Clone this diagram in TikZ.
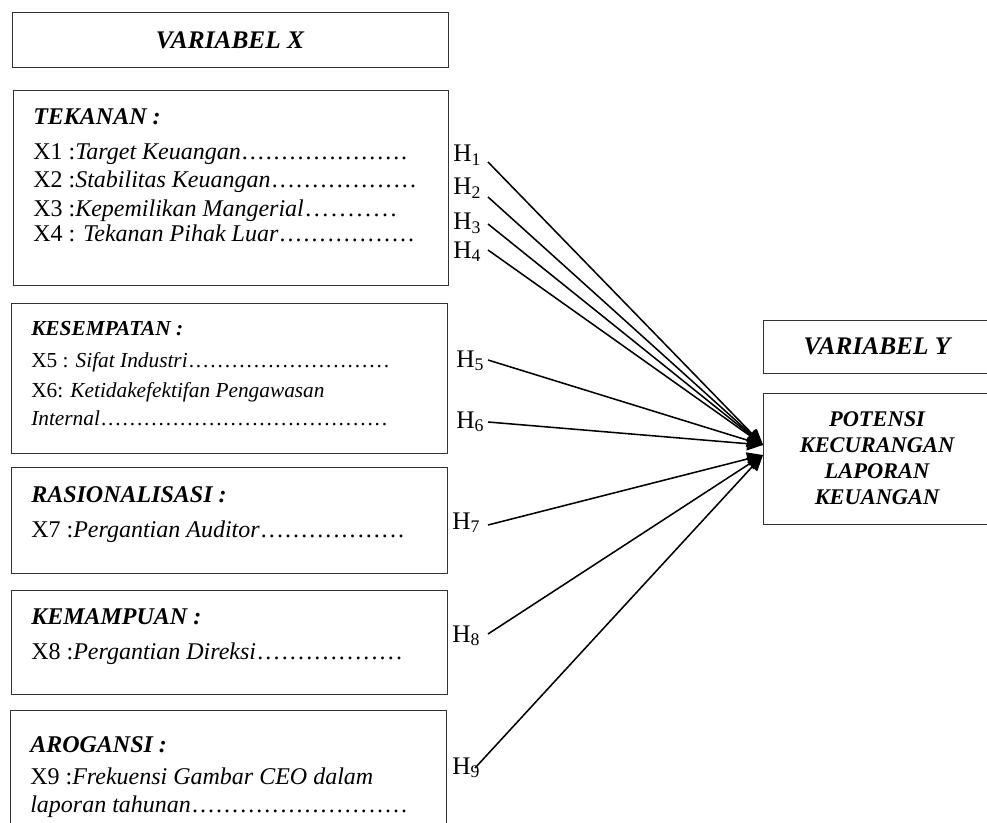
\documentclass[tikz,border=0pt]{standalone}
\usepackage{fontspec}
\setmainfont{Liberation Serif}
\usetikzlibrary{arrows.meta}
\newcommand\dl[2]{\makebox[#1][l]{#2\xleaders\hbox to 0.33em{\hss.\hss}\hfill}}
\newcommand\fA{\fontsize{19}{22}\selectfont\bfseries\itshape}
\newcommand\fB{\fontsize{18}{21}\selectfont}
\newcommand\fC{\fontsize{16}{19}\selectfont}
\newcommand\fP{\fontsize{16.8}{19.5}\selectfont\bfseries\itshape}
\tikzset{
 box/.style={draw=black!80, line width=0.75pt, inner sep=0pt},
 txt/.style={anchor=base west, inner sep=0pt},
 hl/.style={anchor=base west, inner sep=0pt, font=\fontsize{19}{22}\selectfont},
 arr/.style={line width=1.15pt, -{Triangle[length=12pt,width=10pt]}},
}
\begin{document}
\begin{tikzpicture}[x=0.75pt,y=-0.75pt]
\useasboundingbox (0,0) rectangle (987,823);
\clip (0,0) rectangle (987,823);
% boxes
\node[box, minimum width=327pt, minimum height=41.25pt, font=\fA] (vx) at (230,40.5) {VARIABEL X};
\node[box, minimum width=326.25pt, minimum height=145.5pt] (tekbox) at (230.5,188) {};
\node[box, minimum width=327pt, minimum height=112.5pt] (kesbox) at (229,378) {};
\node[box, minimum width=327pt, minimum height=79.5pt] (rasbox) at (229,520) {};
\node[box, minimum width=327pt, minimum height=78pt] (kembox) at (229,642) {};
\node[box, minimum width=327pt, minimum height=97.5pt] (arobox) at (228,775) {};
\node[box, minimum width=171pt, minimum height=39.75pt, font=\fA] (vy) at (877,346.5) {VARIABEL Y};
\node[box, minimum width=171pt, minimum height=98.25pt, align=center, font=\fP] (pot) at (877,458.5) {POTENSI\\KECURANGAN\\LAPORAN\\KEUANGAN};
\begin{scope}[yshift=-1.5pt]
% TEKANAN
\node[txt, font=\fB] (tek) at (33,123) {\textbf{\textit{TEKANAN :}}};
\node[txt, font=\fB] (x1) at (33,158) {\dl{281.25pt}{X1 :\textit{Target Keuangan}}};
\node[txt, font=\fB] (x2) at (33,186) {\dl{288pt}{X2 :\textit{Stabilitas Keuangan}}};
\node[txt, font=\fB] (x3) at (33,215) {\dl{273.75pt}{X3 :\textit{Kepemilikan Mangerial}}};
\node[txt, font=\fB] (x4) at (33,240) {\dl{286.5pt}{X4 : \textit{Tekanan Pihak Luar}}};
% KESEMPATAN
\node[txt, font=\fC] (kes) at (31,333) {\textbf{\textit{KESEMPATAN :}}};
\node[txt, font=\fC] (x5) at (31,365) {\dl{269.25pt}{X5 : \textit{Sifat Industri}}};
\node[txt, font=\fC] (x6) at (31,395) {X6: \textit{Ketidakefektifan Pengawasan}};
\node[txt, font=\fC] (int) at (31,423) {\dl{267.75pt}{\textit{Internal}}};
% RASIONALISASI
\node[txt, font=\fB] (ras) at (31,500) {\textbf{\textit{RASIONALISASI :}}};
\node[txt, font=\fB] (x7) at (31,535) {\dl{280.5pt}{X7 :\textit{Pergantian Auditor}}};
% KEMAMPUAN
\node[txt, font=\fB] (kem) at (31,622) {\textbf{\textit{KEMAMPUAN :}}};
\node[txt, font=\fB] (x8) at (31,657) {\dl{279pt}{X8 :\textit{Pergantian Direksi}}};
% AROGANSI
\node[txt, font=\fB] (aro) at (30,750) {\textbf{\textit{AROGANSI :}}};
\node[txt, font=\fB] (x9) at (30,782) {X9 :\textit{Frekuensi Gambar CEO dalam}};
\node[txt, font=\fB] (lap) at (30,810) {\dl{283.5pt}{\textit{laporan tahunan}}};
\end{scope}
% H labels
\node[hl] (h1) at (453,162) {H\textsubscript{1}};
\node[hl] (h2) at (453,195) {H\textsubscript{2}};
\node[hl] (h3) at (453,230) {H\textsubscript{3}};
\node[hl] (h4) at (453,258) {H\textsubscript{4}};
\node[hl] (h5) at (456,367) {H\textsubscript{5}};
\node[hl] (h6) at (456,428) {H\textsubscript{6}};
\node[hl] (h7) at (452,529) {H\textsubscript{7}};
\node[hl] (h8) at (452,642) {H\textsubscript{8}};
\node[hl] (h9) at (452,774) {H\textsubscript{9}};
% connector ends
\coordinate (s1) at (488,162);
\coordinate (s2) at (488,197);
\coordinate (s3) at (488,224);
\coordinate (s4) at (488,250);
\coordinate (s5) at (488,360);
\coordinate (s6) at (488,422);
\coordinate (s7) at (488,525);
\coordinate (s8) at (488,634);
\coordinate (s9) at (475,768);
\coordinate (ta) at (763,445);
\coordinate (tb) at (763,455);
\foreach \s in {s1,s2,s3,s4,s5,s6} \draw[arr] (\s) -- (ta);
\foreach \s in {s7,s8,s9} \draw[arr] (\s) -- (tb);
\end{tikzpicture}
\end{document}
